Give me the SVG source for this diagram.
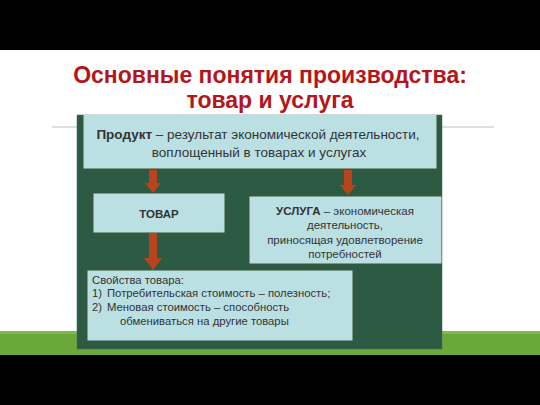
<svg xmlns="http://www.w3.org/2000/svg" width="540" height="405" viewBox="0 0 540 405">
<defs>
<style>
.t{font-family:"Liberation Sans",Arial,sans-serif;fill:#333;}
.title{font-family:"Liberation Sans",Arial,sans-serif;font-weight:bold;fill:#B3161B;font-size:23px;text-anchor:middle;}
.box{fill:#BAE0E4;stroke:#C9D9D9;stroke-width:1;}
.arr{fill:#B8431C;}
</style>
</defs>
<rect x="0" y="0" width="540" height="405" fill="#ffffff"/>
<rect x="0" y="0" width="540" height="50" fill="#000"/>
<rect x="0" y="331" width="540" height="24" fill="#6AA83A"/>
<rect x="0" y="331" width="540" height="3" fill="#7DBB48"/>
<rect x="0" y="355" width="540" height="50" fill="#000"/>
<g id="title">
<text class="title" x="270" y="83">Основные понятия производства:</text>
<text class="title" x="270" y="108">товар и услуга</text>
</g>
<line x1="52" y1="127" x2="77" y2="127" stroke="#D4D4D4" stroke-width="1.5"/>
<line x1="442" y1="127" x2="494" y2="127" stroke="#D4D4D4" stroke-width="1.5"/>
<rect id="panel" x="77" y="115" width="365" height="234" fill="#2D5A43" stroke="#4a6a5a" stroke-width="0.5"/>
<g id="product">
<rect class="box" x="84" y="115" width="352" height="53"/>
<text class="t" x="258" y="139" font-size="13.5" text-anchor="middle"><tspan font-weight="bold">Продукт</tspan> – результат экономической деятельности,</text>
<text class="t" x="259" y="157" font-size="13.5" text-anchor="middle">воплощенный в товарах и услугах</text>
</g>
<g id="tovar">
<rect class="box" x="94" y="194" width="130" height="38"/>
<text class="t" x="159" y="218" font-size="11.5" font-weight="bold" text-anchor="middle">ТОВАР</text>
</g>
<g id="usluga">
<rect class="box" x="250" y="197" width="191" height="66"/>
<text class="t" x="345" y="215" font-size="11.5" text-anchor="middle"><tspan font-weight="bold">УСЛУГА</tspan> – экономическая</text>
<text class="t" x="345" y="229" font-size="11.5" text-anchor="middle">деятельность,</text>
<text class="t" x="345" y="244" font-size="11.5" text-anchor="middle">приносящая удовлетворение</text>
<text class="t" x="345" y="258" font-size="11.5" text-anchor="middle">потребностей</text>
</g>
<g id="svoistva">
<rect class="box" x="88" y="271" width="264" height="69"/>
<text class="t" x="92" y="284" font-size="11.3">Свойства товара:</text>
<text class="t" x="92" y="297" font-size="11.3">1)</text>
<text class="t" x="107" y="297" font-size="11.3">Потребительская стоимость – полезность;</text>
<text class="t" x="92" y="311" font-size="11.3">2)</text>
<text class="t" x="107" y="311" font-size="11.3">Меновая стоимость – способность</text>
<text class="t" x="120" y="325" font-size="11.3">обмениваться на другие товары</text>
</g>
<g id="connectors">
<polygon class="arr" points="149,170 157,170 157,183 161,183 153,193 145,183 149,183"/>
<polygon class="arr" points="344,170 352,170 352,185 356,185 348,195 340,185 344,185"/>
<polygon class="arr" points="149,233 157,233 157,258 162,258 153,270 144,258 149,258"/>
</g>
</svg>
